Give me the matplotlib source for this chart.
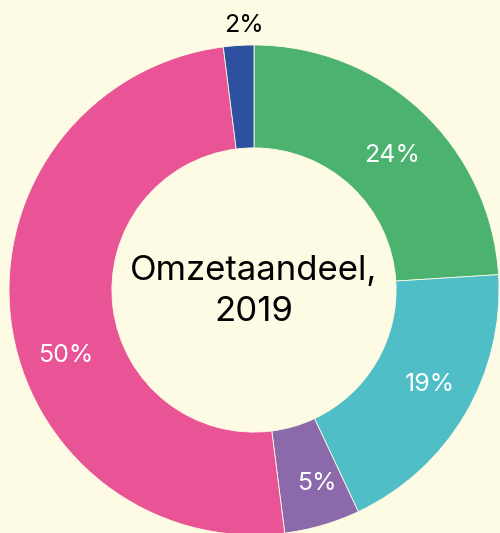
import matplotlib
matplotlib.use("Agg")
import matplotlib.pyplot as plt
import numpy as np

shares = [24, 19, 5, 50, 2]
pct_labels = ["24%", "19%", "5%", "50%", "2%"]
colors = ["#4BB270", "#4FBEC7", "#8B69AA", "#E85496", "#2D51A0"]
title = "Omzetaandeel,\n2019"

# label placement tweaks (angle offset in degrees, radius)
label_dang = [-2.6, 2.2, 1.9, 11.8, -1.5]
label_r = [0.785, 0.815, 0.83, 0.815, 1.08]
label_colors = ["white", "white", "white", "white", "black"]

bg = "#FEFBE5"
plt.rcParams['font.family'] = ['Inter', 'DejaVu Sans']

fig = plt.figure(figsize=(5.0, 5.33), dpi=100)
fig.patch.set_facecolor(bg)
ax = fig.add_axes([9/500, -2/533, 490/500, 490/533])
ax.set_facecolor(bg)

wedges, _ = ax.pie(shares, colors=colors, startangle=90, counterclock=False,
                   radius=1.0, wedgeprops=dict(width=0.42, edgecolor=bg, linewidth=0.6))
ax.set_xlim(-1, 1)
ax.set_ylim(-1, 1)
ax.set_aspect('equal')
ax.axis('off')

for w, lab, da, r, c in zip(wedges, pct_labels, label_dang, label_r, label_colors):
    ang = np.deg2rad((w.theta1 + w.theta2) / 2 + da)
    ax.text(r*np.cos(ang), r*np.sin(ang), lab, ha='center', va='center',
            color=c, fontsize=18)

ax.text(0, -0.005, title, ha='center', va='center', fontsize=25, color='black',
        linespacing=1.35)

fig.savefig("out.png", dpi=100, facecolor=bg)
